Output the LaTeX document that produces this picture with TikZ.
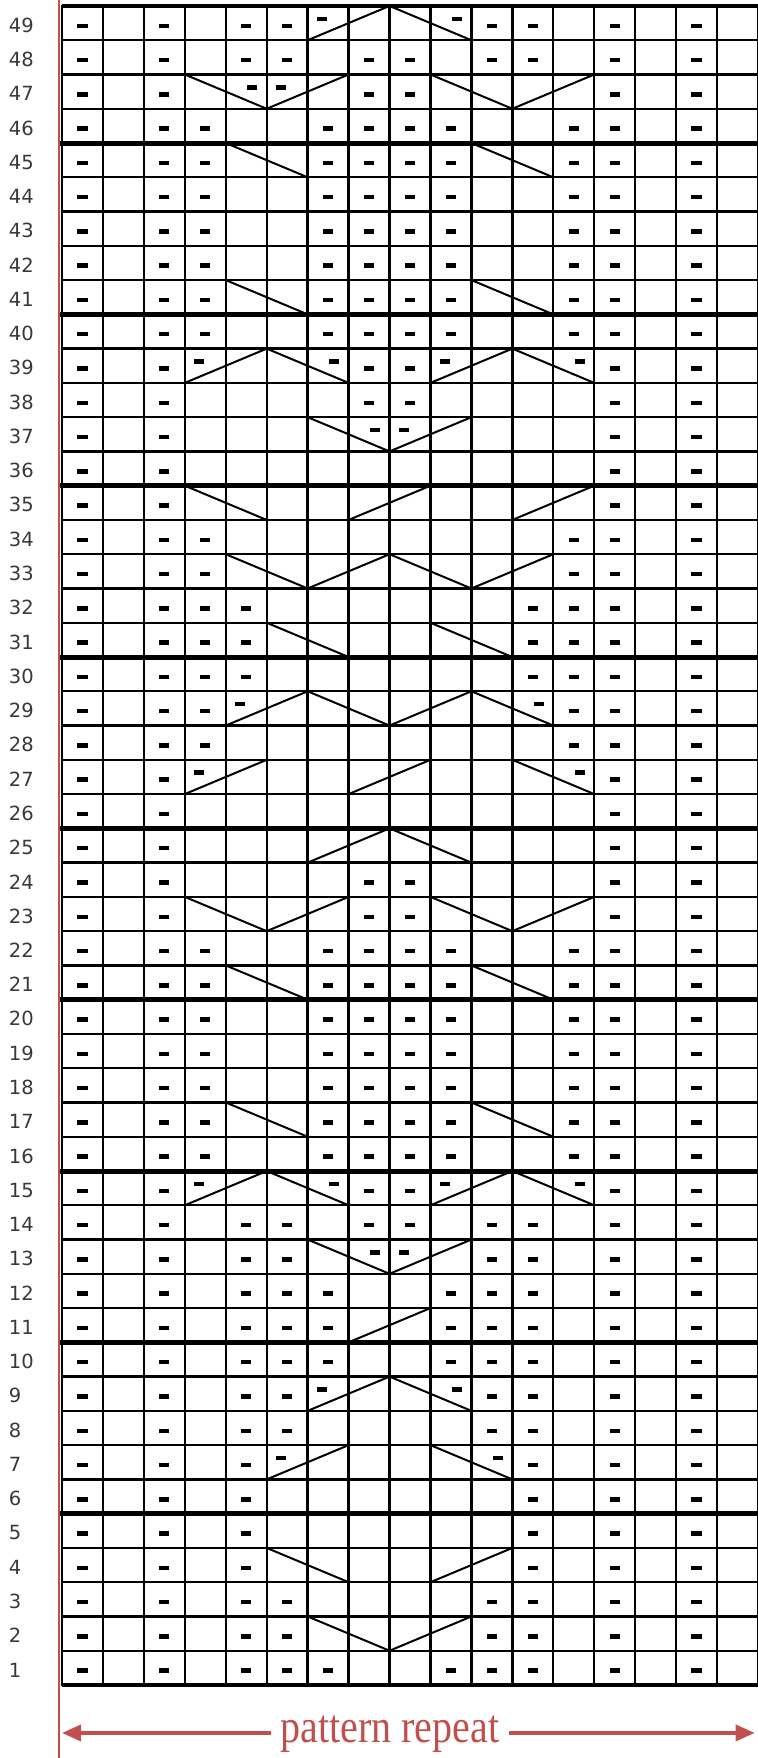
\documentclass[tikz,border=0pt]{standalone}
\usepackage{fontspec}
\usepackage{xcolor}
\usepackage{tikz}
\usetikzlibrary{arrows.meta}
\newfontfamily\labelfont{DejaVu Sans}
\newfontfamily\repeatfont{Liberation Serif}
\definecolor{repeatred}{HTML}{C0504D}
\definecolor{labelgray}{HTML}{383838}

\begin{document}
\begin{tikzpicture}[x=40.94pt,y=34.265pt,
  gridline/.style={line width=2.4pt,line cap=rect},
  barline/.style={line width=5pt,line cap=rect},
  cable/.style={line width=2pt,line cap=round,line join=miter},
  purl/.style={fill=black},
  rowlabel/.style={anchor=west,inner sep=0pt,text=labelgray,
                   font=\labelfont\fontsize{19.5}{22}\selectfont},
  repeatline/.style={draw=repeatred,line width=3.5pt,
                     -{Triangle[length=19pt,width=16pt]}},
  repeattext/.style={text=repeatred,inner xsep=9pt,inner ysep=0pt,
                     font=\repeatfont\fontsize{40}{44}\selectfont}]
  \useasboundingbox (-1.5144,-2.1305) rectangle (17,49.175);
  \draw[repeatred,line width=2.2pt] (-0.073,-2.1305) -- (-0.073,49.175);
  \foreach \x in {0,...,17}
    \draw[gridline] (\x,0) -- (\x,49);
  \foreach \y in {0,...,49}
    \draw[gridline] (0,\y) -- (17,\y);
  \foreach \y in {5,10,...,45}
    \draw[barline] (0,\y) -- (17,\y);
  \draw[line width=3.5pt] (0,49) -- (17,49) (0,0) -- (17,0);
  \foreach \r in {1,...,49}
    \node[rowlabel] (row\r) at (-1.3,\r-0.56) {\r};
  \foreach \r/\cs in {49/{1,3,5,6,11,12,14,16},
                      48/{1,3,5,6,8,9,11,12,14,16},
                      47/{1,3,8,9,14,16},
                      46/{1,3,4,7,8,9,10,13,14,16},
                      45/{1,3,4,7,8,9,10,13,14,16},
                      44/{1,3,4,7,8,9,10,13,14,16},
                      43/{1,3,4,7,8,9,10,13,14,16},
                      42/{1,3,4,7,8,9,10,13,14,16},
                      41/{1,3,4,7,8,9,10,13,14,16},
                      40/{1,3,4,7,8,9,10,13,14,16},
                      39/{1,3,8,9,14,16},
                      38/{1,3,8,9,14,16},
                      37/{1,3,14,16},
                      36/{1,3,14,16},
                      35/{1,3,14,16},
                      34/{1,3,4,13,14,16},
                      33/{1,3,4,13,14,16},
                      32/{1,3,4,5,12,13,14,16},
                      31/{1,3,4,5,12,13,14,16},
                      30/{1,3,4,5,12,13,14,16},
                      29/{1,3,4,13,14,16},
                      28/{1,3,4,13,14,16},
                      27/{1,3,14,16},
                      26/{1,3,14,16},
                      25/{1,3,14,16},
                      24/{1,3,8,9,14,16},
                      23/{1,3,8,9,14,16},
                      22/{1,3,4,7,8,9,10,13,14,16},
                      21/{1,3,4,7,8,9,10,13,14,16},
                      20/{1,3,4,7,8,9,10,13,14,16},
                      19/{1,3,4,7,8,9,10,13,14,16},
                      18/{1,3,4,7,8,9,10,13,14,16},
                      17/{1,3,4,7,8,9,10,13,14,16},
                      16/{1,3,4,7,8,9,10,13,14,16},
                      15/{1,3,8,9,14,16},
                      14/{1,3,5,6,8,9,11,12,14,16},
                      13/{1,3,5,6,11,12,14,16},
                      12/{1,3,5,6,7,10,11,12,14,16},
                      11/{1,3,5,6,7,10,11,12,14,16},
                      10/{1,3,5,6,7,10,11,12,14,16},
                      9/{1,3,5,6,11,12,14,16},
                      8/{1,3,5,6,11,12,14,16},
                      7/{1,3,5,12,14,16},
                      6/{1,3,5,12,14,16},
                      5/{1,3,5,12,14,16},
                      4/{1,3,5,12,14,16},
                      3/{1,3,5,6,11,12,14,16},
                      2/{1,3,5,6,11,12,14,16},
                      1/{1,3,5,6,7,10,11,12,14,16}}
    \foreach \c in \cs
      \fill[purl] (\c-0.625,\r-0.515) rectangle (\c-0.375,\r-0.645);
  \foreach \c/\r/\s in {7/49/-1,10/49/1,5/47/1,6/47/-1,
                        4/39/-1,7/39/1,10/39/-1,13/39/1,8/37/1,9/37/-1,
                        5/29/-1,12/29/1,4/27/-1,13/27/1,
                        4/15/-1,7/15/1,10/15/-1,13/15/1,8/13/1,9/13/-1,
                        7/9/-1,10/9/1,6/7/-1,11/7/1}
    \fill[purl] (\c-0.625+0.15*\s,\r-0.31) rectangle (\c-0.375+0.15*\s,\r-0.44);
  \draw[cable] (6,48) -- (8,49) -- (10,48);
  \draw[cable] (3,47) -- (5,46) -- (7,47) (9,47) -- (11,46) -- (13,47);
  \draw[cable] (4,45) -- (6,44) (10,45) -- (12,44);
  \draw[cable] (4,41) -- (6,40) (10,41) -- (12,40);
  \draw[cable] (3,38) -- (5,39) -- (7,38) (9,38) -- (11,39) -- (13,38);
  \draw[cable] (6,37) -- (8,36) -- (10,37);
  \draw[cable] (3,35) -- (5,34) (7,34) -- (9,35) (11,34) -- (13,35);
  \draw[cable] (4,33) -- (6,32) -- (8,33) -- (10,32) -- (12,33);
  \draw[cable] (5,31) -- (7,30) (9,31) -- (11,30);
  \draw[cable] (4,28) -- (6,29) -- (8,28) -- (10,29) -- (12,28);
  \draw[cable] (3,26) -- (5,27) (7,26) -- (9,27) (11,27) -- (13,26);
  \draw[cable] (6,24) -- (8,25) -- (10,24);
  \draw[cable] (3,23) -- (5,22) -- (7,23) (9,23) -- (11,22) -- (13,23);
  \draw[cable] (4,21) -- (6,20) (10,21) -- (12,20);
  \draw[cable] (4,17) -- (6,16) (10,17) -- (12,16);
  \draw[cable] (3,14) -- (5,15) -- (7,14) (9,14) -- (11,15) -- (13,14);
  \draw[cable] (6,13) -- (8,12) -- (10,13);
  \draw[cable] (7,10) -- (9,11);
  \draw[cable] (6,8) -- (8,9) -- (10,8);
  \draw[cable] (5,6) -- (7,7) (9,7) -- (11,6);
  \draw[cable] (5,4) -- (7,3) (9,3) -- (11,4);
  \draw[cable] (6,2) -- (8,1) -- (10,2);
  \coordinate (repL) at (0,-1.40);
  \coordinate (repR) at (16.92,-1.40);
  \node[repeattext] (rep) at (8.01,-1.43) {\scalebox{1}[1.18]{pattern repeat}};
  \draw[repeatline] (rep.west |- repL) -- (repL);
  \draw[repeatline] (rep.east |- repR) -- (repR);
\end{tikzpicture}
\end{document}
